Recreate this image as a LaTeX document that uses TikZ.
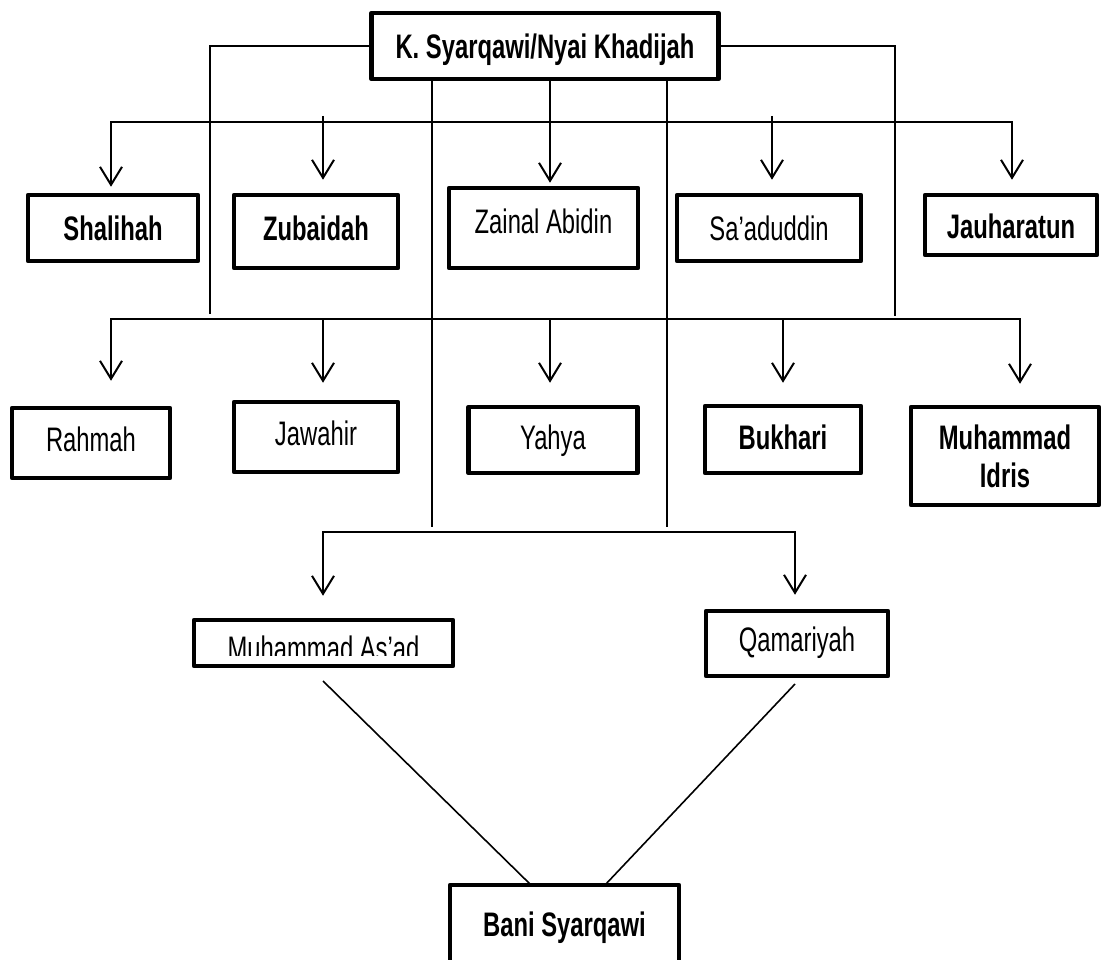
\documentclass[tikz,border=0pt]{standalone}
\usepackage{fontspec}
\setmainfont{Liberation Sans}[FakeStretch=0.70]
\usetikzlibrary{arrows.meta}
\tikzset{
  conn/.style={line width=2pt},
  tipv/.tip={Straight Barb[length=18pt,width=22pt]},
  arr/.style={conn,-tipv},
  darr/.style={conn,tipv-tipv},
  box/.style={draw, line width=4.5pt, line join=round, inner sep=0pt,
    text height=24.3pt, text depth=0pt, font=\fontsize{34}{38}\selectfont},
  bbox/.style={box, font=\fontsize{34}{38}\selectfont\bfseries},
  txt/.style={inner sep=0pt, font=\fontsize{34}{38}\selectfont},
}
\begin{document}
\begin{tikzpicture}[x=1pt,y=-1pt]
\useasboundingbox (0,0) rectangle (1101,960);
\clip (0,0) rectangle (1101,960);
% boxes
\node[bbox, minimum width=347pt, minimum height=66pt] (top) at (545,46) {K. Syarqawi/Nyai Khadijah};
\node[bbox, minimum width=170pt, minimum height=66pt] (shal) at (113,228) {Shalihah};
\node[bbox, minimum width=164pt, minimum height=73pt, text depth=7pt] (zub) at (316,231.5) {Zubaidah};
\node[box, minimum width=189pt, minimum height=80pt, text depth=14pt] (zain) at (543.5,228) {Zainal Abidin};
\node[box, minimum width=184pt, minimum height=66pt] (saad) at (769,228) {Sa’aduddin};
\node[bbox, minimum width=172pt, minimum height=60pt, text height=27pt] (jauh) at (1011,225) {Jauharatun};
\node[box, minimum width=158pt, minimum height=70pt, text depth=8pt] (rahm) at (91,443) {Rahmah};
\node[box, minimum width=164pt, minimum height=70pt, text depth=8pt] (jawa) at (316,437) {Jawahir};
\node[box, minimum width=169pt, minimum height=66pt, text depth=6pt] (yahy) at (553,440) {Yahya};
\node[bbox, minimum width=156pt, minimum height=67pt, text depth=4pt] (bukh) at (783,439.5) {Bukhari};
\node[bbox, minimum width=188pt, minimum height=98pt, text height=, text depth=, align=center] (idri) at (1005,456) {Muhammad\\Idris};
\node[box, minimum width=259pt, minimum height=46pt] (asad) at (323.5,643) {};
\begin{scope}
  \clip (194,600) rectangle (453,655);
  \node[txt, anchor=base] (asadt) at (323.5,660) {Muhammad As’ad};
\end{scope}
\node[box, minimum width=182pt, minimum height=65pt, text depth=8pt] (qama) at (797,643.5) {Qamariyah};
\node[bbox, minimum width=229pt, minimum height=120pt, text depth=42pt] (bani) at (564.5,945) {Bani Syarqawi};
% helper coordinates
\coordinate (lv) at (210,314);
\coordinate (rv) at (895,316);
\coordinate (v1) at (432,527);
\coordinate (v2) at (667,527);
\coordinate (zx) at (550,0);
\coordinate (r1L) at (111,122);
\coordinate (r1R) at (1012,122);
\coordinate (zb) at (323,116);
\coordinate (sd) at (772,116);
\coordinate (r2L) at (111,319);
\coordinate (r2R) at (1020,319);
\coordinate (jw) at (323,319);
\coordinate (yh) at (550,319);
\coordinate (bk) at (783,319);
\coordinate (r3L) at (323,532);
\coordinate (r3R) at (795,532);
\coordinate (d1s) at (323,681);
\coordinate (d1e) at (531,885);
\coordinate (d2s) at (795,684);
\coordinate (d2e) at (605,885);
% connectors from top
\draw[conn] (top.west) -| (lv);
\draw[conn] (top.east) -| (rv);
\draw[conn] (v1 |- top.south) -- (v1);
\draw[conn] (v2 |- top.south) -- (v2);
\draw[arr, shorten >=3pt] (zx |- top.south) -- (zx |- zain.north);
% row 1
\draw[darr, shorten <=6pt, shorten >=13pt] (r1L |- shal.north) -- (r1L) -- (r1R) -- (r1R |- jauh.north);
\draw[arr, shorten >=13pt] (zb) -- (zb |- zub.north);
\draw[arr, shorten >=13pt] (sd) -- (sd |- saad.north);
% row 2
\draw[darr, shorten <=25pt, shorten >=21pt] (r2L |- rahm.north) -- (r2L) -- (r2R) -- (r2R |- idri.north);
\draw[arr, shorten >=17pt] (jw) -- (jw |- jawa.north);
\draw[arr, shorten >=22pt] (yh) -- (yh |- yahy.north);
\draw[arr, shorten >=21pt] (bk) -- (bk |- bukh.north);
% row 3
\draw[darr, shorten <=22pt, shorten >=14pt] (r3L |- asad.north) -- (r3L) -- (r3R) -- (r3R |- qama.north);
% to Bani Syarqawi
\draw[conn, line width=1.6pt] (d1s) -- (d1e);
\draw[conn, line width=1.6pt] (d2s) -- (d2e);
\end{tikzpicture}
\end{document}
